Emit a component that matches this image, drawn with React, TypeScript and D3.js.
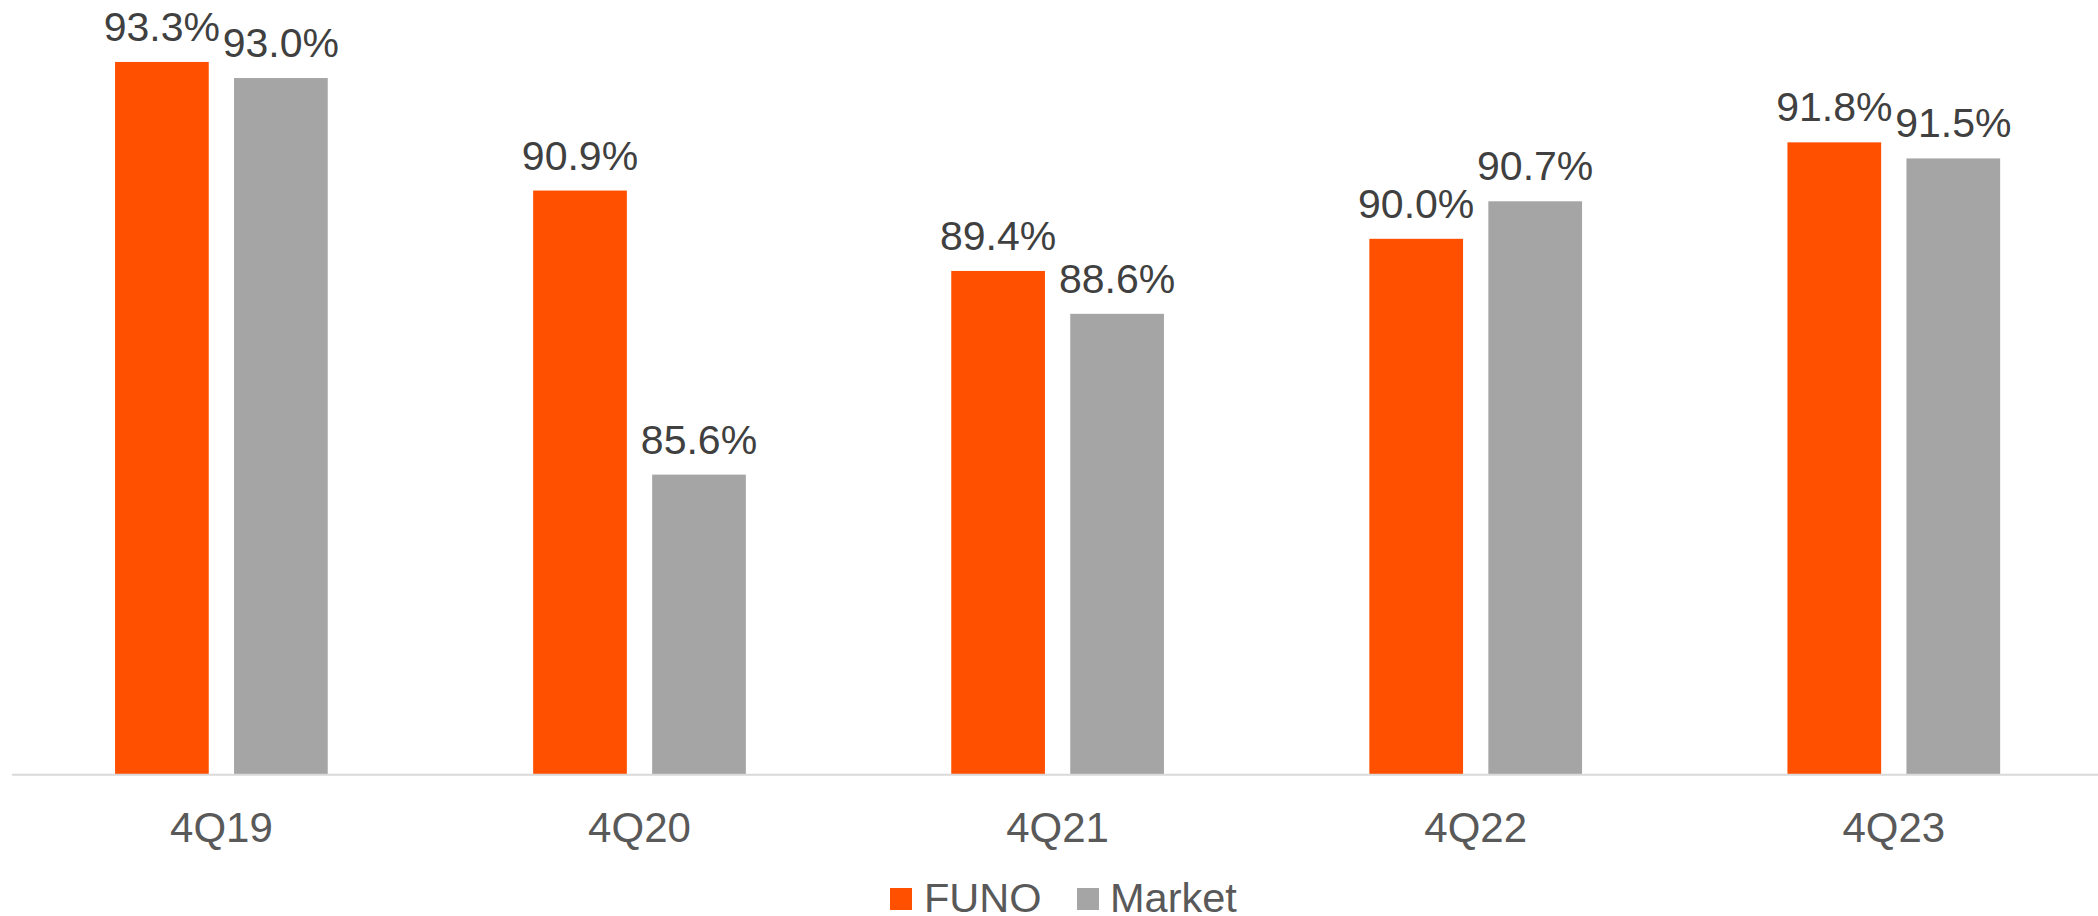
import React from "react";
import * as d3 from "d3";

const categories = ["4Q19", "4Q20", "4Q21", "4Q22", "4Q23"];
const seriesNames = ["FUNO", "Market"];
const funo = [93.3, 90.9, 89.4, 90.0, 91.8];
const market = [93.0, 85.6, 88.6, 90.7, 91.5];
const colors = ["#FF5000", "#A5A5A5"];

const W = 2098;
const H = 916;
const baseY = 774.7;
const pxPerUnit = 53.59;

export default function App() {
  const x = d3.scaleBand<string>().domain(categories).range([12.35, 2102.85]).paddingInner(0).paddingOuter(0);
  const bw = x.bandwidth();
  const inner = 212.7;
  const sub = d3
    .scaleBand<string>()
    .domain(seriesNames)
    .range([(bw - inner) / 2, (bw + inner) / 2])
    .paddingInner(0.2126)
    .paddingOuter(0);
  const y = d3.scaleLinear().domain([80, 95]).range([baseY, baseY - 15 * pxPerUnit]);
  const data = [funo, market];
  const font = "'Liberation Sans', Arial, sans-serif";

  return (
    <svg
      width={W}
      height={H}
      style={{ position: "absolute", left: 0, top: 0, background: "#fff" }}
      fontFamily={font}
    >
      {categories.map((c, i) => (
        <g key={c} transform={`translate(${x(c)},0)`}>
          {seriesNames.map((s, j) => {
            const v = data[j][i];
            const bx = sub(s) as number;
            const top = y(v);
            return (
              <g key={s}>
                <rect x={bx} y={top} width={sub.bandwidth()} height={baseY - top} fill={colors[j]} />
                <text
                  x={bx + sub.bandwidth() / 2}
                  y={top - 21}
                  textAnchor="middle"
                  fontSize={41}
                  fill="#404040"
                >
                  {v.toFixed(1) + "%"}
                </text>
              </g>
            );
          })}
          <text x={bw / 2} y={841.7} textAnchor="middle" fontSize={42} fill="#595959">
            {c}
          </text>
        </g>
      ))}
      <line x1={12} x2={W} y1={baseY} y2={baseY} stroke="#D9D9D9" strokeWidth={2} />
      <g>
        <rect x={890} y={888} width={22} height={22} fill={colors[0]} />
        <text x={924} y={911.5} fontSize={41.5} fill="#595959">
          {seriesNames[0]}
        </text>
        <rect x={1077} y={888} width={22} height={22} fill={colors[1]} />
        <text x={1110} y={911.5} fontSize={41.5} fill="#595959">
          {seriesNames[1]}
        </text>
      </g>
    </svg>
  );
}
